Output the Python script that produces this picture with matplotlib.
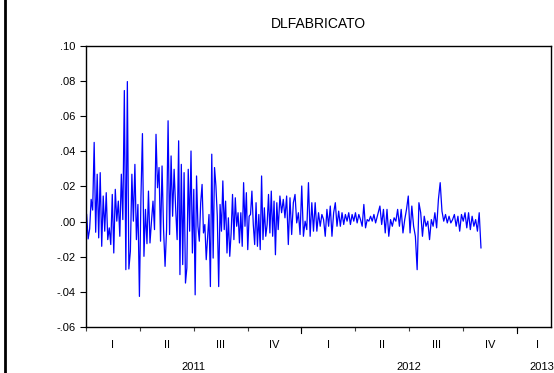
"""Line chart of DLFABRICATO daily log differences, EViews style."""
import numpy as np
import matplotlib
matplotlib.use('Agg')
import matplotlib.pyplot as plt
from matplotlib.lines import Line2D

plt.rcParams['font.family'] = ['Liberation Sans', 'DejaVu Sans']

title = 'DLFABRICATO'

# Series, in four stretches (start, end as fractional years).
seg1_range = (2011.003, 2011.430)
seg1_values = [
    0.0040, -0.0099, -0.0042, 0.0126, 0.0065, 0.0450, -0.0061, 0.0269,
    -0.0093, 0.0278, -0.0141, 0.0145, -0.0055, 0.0164, -0.0103, -0.0036,
    -0.0131, 0.0154, -0.0179, 0.0183, 0.0002, 0.0116, -0.0084, 0.0269,
    0.0011, 0.0745, -0.0274, 0.0796, -0.0270, -0.0169, 0.0269, 0.0002,
    0.0325, -0.0103, 0.0097, -0.0426, 0.0135, 0.0500, -0.0198, 0.0069,
    -0.0126, 0.0173, -0.0122, 0.0002, 0.0116, -0.0046, 0.0496, 0.0192,
    0.0307, -0.0112, 0.0316, -0.0046, -0.0255, -0.0046, 0.0573, -0.0074,
    0.0373, 0.0030, 0.0297, 0.0078, -0.0103, 0.0459,
]
seg2_range = (2011.436, 2011.892)
seg2_values = [
    -0.0302, 0.0325, -0.0245, 0.0278, -0.0350, -0.0264, 0.0297, -0.0055,
    0.0401, -0.0179, 0.0183, -0.0417, 0.0259, -0.0027, -0.0112, 0.0107,
    0.0211, -0.0065, -0.0017, -0.0217, -0.0084, 0.0040, -0.0370, 0.0383,
    -0.0208, 0.0307, 0.0202, 0.0030, -0.0370, 0.0097, -0.0055, 0.0231,
    -0.0046, 0.0116, -0.0179, 0.0021, -0.0198, -0.0065, 0.0154, -0.0103,
    0.0135, -0.0027, 0.0050, -0.0122, 0.0050, -0.0141, 0.0221, -0.0027,
    0.0164, -0.0160, 0.0030, 0.0040, 0.0173, -0.0017, -0.0131, 0.0107,
    -0.0141, 0.0040, -0.0160, 0.0259, -0.0103, 0.0078, -0.0084, -0.0017,
    0.0154, -0.0065, 0.0173, -0.0084, 0.0116, -0.0189, 0.0107, -0.0046,
]
seg3_range = (2011.900, 2012.344)
seg3_values = [
    0.0145, 0.0050, 0.0126, 0.0021, 0.0145, -0.0131, 0.0135, -0.0074,
    0.0107, 0.0154, -0.0008, 0.0050, -0.0074, 0.0202, -0.0084, 0.0002,
    -0.0046, 0.0221, -0.0084, 0.0107, -0.0055, 0.0107, -0.0055, 0.0050,
    -0.0027, 0.0040, 0.0011, -0.0084, 0.0069, -0.0027, 0.0088, -0.0084,
    0.0050, 0.0107, -0.0027, 0.0059, -0.0027, 0.0050, -0.0017, 0.0040,
    0.0002, 0.0050, -0.0017, 0.0040, 0.0002, 0.0050, -0.0008, 0.0040,
    0.0011, -0.0027, 0.0097, -0.0036, 0.0011, 0.0002, 0.0030, 0.0002,
    0.0040, -0.0008,
]
seg4_range = (2012.364, 2012.833)
seg4_values = [
    0.0088, -0.0017, 0.0069, -0.0065, 0.0069, -0.0084, 0.0011, -0.0027,
    0.0021, 0.0002, 0.0069, -0.0027, 0.0069, -0.0065, 0.0011, 0.0069,
    0.0145, -0.0065, 0.0088, -0.0027, -0.0084, -0.0274, 0.0107, 0.0050,
    -0.0084, 0.0030, -0.0027, 0.0002, -0.0103, 0.0011, -0.0027, 0.0050,
    -0.0036, 0.0126, 0.0221, 0.0059, 0.0002, 0.0040, -0.0008, 0.0030,
    -0.0008, 0.0011, 0.0040, -0.0027, 0.0030, -0.0055, 0.0040, 0.0002,
    0.0050, -0.0036, 0.0050, -0.0046, 0.0030, -0.0027, 0.0011, -0.0055,
    0.0050, -0.0150,
]

years = [2011, 2012, 2013]
quarter_labels = ['I', 'II', 'III', 'IV']
y_ticks = [-0.06, -0.04, -0.02, 0.00, 0.02, 0.04, 0.06, 0.08, 0.10]


def build_series():
    """Join the stretches into one x/y pair."""
    xs, ys = [], []
    for (start, end), vals in [(seg1_range, seg1_values),
                               (seg2_range, seg2_values),
                               (seg3_range, seg3_values),
                               (seg4_range, seg4_values)]:
        xs.extend(np.linspace(start, end, len(vals)))
        ys.extend(vals)
    return np.array(xs), np.array(ys)


def fmt_tick(v):
    s = '%.2f' % v
    return s.replace('0.', '.')


x, y = build_series()

fig = plt.figure(figsize=(5.54, 3.73), dpi=100)
ax = fig.add_axes([0.1552, 0.1233, 0.8394, 0.7542])
ax.plot(x, y, color='#0000ff', lw=0.9)

x_end = 2013.158
ax.set_xlim(2011.0, x_end)
ax.set_ylim(-0.06, 0.10)
ax.set_title(title, fontsize=10, pad=13)

ax.set_yticks(y_ticks)
ax.set_yticklabels([fmt_tick(v) for v in y_ticks], fontsize=8)
ax.tick_params(axis='y', direction='out', length=4, width=0.8)

# quarter boundaries as ticks, labels sit between them
bounds = [yr + q / 4 for yr in years for q in range(4) if yr + q / 4 <= x_end]
ax.set_xticks(bounds)
ax.set_xticklabels([])
ax.tick_params(axis='x', direction='out', length=3, width=0.8, color='#404040')
mids = [b + 0.125 if b + 0.25 <= x_end else b + 0.093 for b in bounds]
labels = [quarter_labels[i % 4] for i in range(len(bounds))]
ax.set_xticks(mids, minor=True)
ax.set_xticklabels(labels, minor=True, fontsize=8)
ax.tick_params(axis='x', which='minor', length=0, pad=9)
for yr in years[1:]:
    ax.plot([yr, yr], [0, -0.022], transform=ax.get_xaxis_transform(),
            color='black', lw=0.8, clip_on=False)

for yr in years:
    xm = yr + 0.5 if yr + 1 <= x_end else yr + 0.116
    ax.text(xm, -0.125, str(yr), transform=ax.get_xaxis_transform(),
            ha='center', va='top', fontsize=8)

for side in ax.spines.values():
    side.set_linewidth(1.0)

fig.add_artist(Line2D([5 / 554, 5 / 554], [0, 1], color='black', lw=2))

fig.savefig('out.png', dpi=100)
